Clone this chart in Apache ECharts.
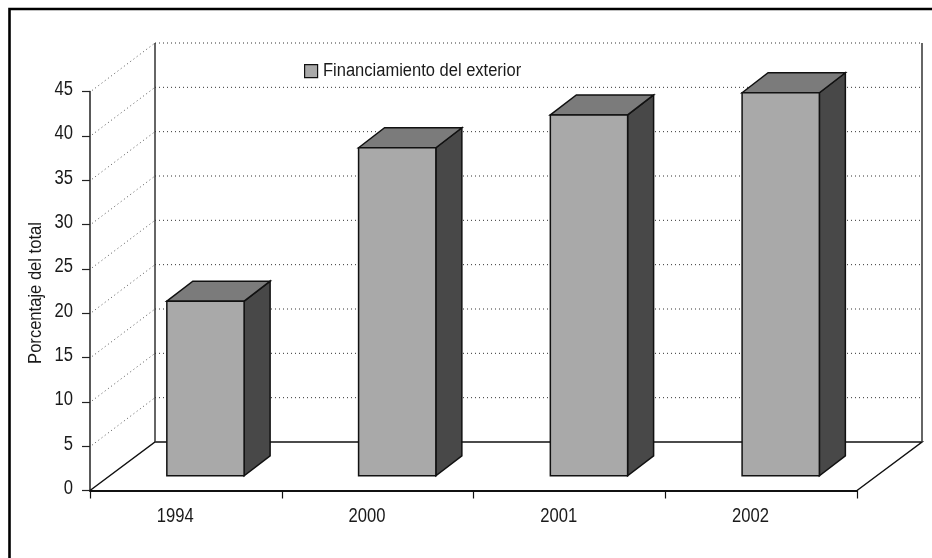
<!DOCTYPE html>
<html><head><meta charset="utf-8">
<style>html,body{margin:0;padding:0;background:#fff}#c{width:932px;height:558px}</style>
<script src="https://cdn.jsdelivr.net/npm/echarts@6/dist/echarts.min.js"></script>
</head><body><div id="c"></div>
<script>
const categories = ['1994','2000','2001','2002'];
const financiamiento = [19.7,37.0,40.7,43.2];
const yTicks = [0,5,10,15,20,25,30,35,40,45];
const seriesName = 'Financiamiento del exterior';
const axisName = 'Porcentaje del total';

const FONT = '"Liberation Sans",sans-serif';
const WALL = {dx:65, dy:-48.5};
const INSET = {dx:19.6, dy:-14.7};
const DEPTH = {dx:26, dy:-20};
const BAR_RATIO = 0.403;
const INK = '#111';
const TEXT = '#1a1a1a';
const NARROW = 0.83;

const chart = echarts.init(document.getElementById('c'), null, {renderer:'canvas'});

function wallItem(params, api){
  const v = api.value(0);
  const cs = params.coordSys;
  const y = api.coord([0, v])[1];
  const x0 = cs.x, x1 = cs.x + cs.width;
  const kids = [];
  if (v === 0){
    const by = y + WALL.dy;
    const bx0 = x0 + WALL.dx, bx1 = x1 + WALL.dx;
    const topY = cs.y + WALL.dy;
    kids.push({type:'polyline', shape:{points:[[x0,y],[bx0,by],[bx1,by],[x1,y]]}, style:{fill:null, stroke:INK, lineWidth:1.5}});
    kids.push({type:'line', shape:{x1:bx0,y1:by,x2:bx0,y2:topY}, style:{stroke:'#333',lineWidth:1.5}});
    kids.push({type:'line', shape:{x1:bx1,y1:by,x2:bx1,y2:topY}, style:{stroke:'#333',lineWidth:1.5}});
  } else {
    kids.push({type:'line', shape:{x1:x0+2,y1:y-1,x2:x0+WALL.dx,y2:y+WALL.dy}, style:{stroke:'#555', lineWidth:1, lineDash:[1,3]}});
    kids.push({type:'line', shape:{x1:x0+WALL.dx,y1:y+WALL.dy,x2:x1+WALL.dx,y2:y+WALL.dy}, style:{stroke:'#333', lineWidth:1, lineDash:[1,3]}});
  }
  return {type:'group', children:kids};
}

function yLabelItem(params, api){
  const v = api.value(0);
  const y = api.coord([0, v])[1];
  return {type:'text', x:params.coordSys.x - 17, y:y - 2, scaleX:NARROW,
    style:{text:String(v), fontFamily:FONT, fontSize:20, fill:TEXT, align:'right', verticalAlign:'middle'}};
}

function xLabelItem(params, api){
  const c = api.value(0);
  const p = api.coord([c, 0]);
  return {type:'text', x:p[0] - 10.7, y:p[1] + 25.5, scaleX:NARROW,
    style:{text:categories[c], fontFamily:FONT, fontSize:20, fill:TEXT, align:'center', verticalAlign:'middle'}};
}

function barItem(params, api){
  const c = api.value(0), v = api.value(1);
  const top = api.coord([c, v]), base = api.coord([c, 0]);
  const w = api.size([1,0])[0] * BAR_RATIO;
  const l = top[0] + INSET.dx - w/2, r = l + w;
  const t = top[1] + INSET.dy, b = base[1] + INSET.dy;
  const ln = {stroke:INK, lineWidth:1.5, lineJoin:'miter'};
  const dx = DEPTH.dx, dy = DEPTH.dy;
  return {type:'group', children:[
    {type:'polygon', shape:{points:[[r,t],[r+dx,t+dy],[r+dx,b+dy],[r,b]]}, style:{fill:'#484848', ...ln}},
    {type:'polygon', shape:{points:[[l,t],[l+dx,t+dy],[r+dx,t+dy],[r,t]]}, style:{fill:'#7b7b7b', ...ln}},
    {type:'rect', shape:{x:l,y:t,width:w,height:b-t}, style:{fill:'#a9a9a9', ...ln}}
  ]};
}

chart.setOption({
  animation:false,
  backgroundColor:'#fff',
  graphic:[
    {type:'rect', silent:true, z:-1, shape:{x:9.5,y:9,width:960,height:600}, style:{fill:null,stroke:'#000',lineWidth:2.6}},
    {type:'text', silent:true, x:36, y:293, rotation:Math.PI/2, scaleX:0.92,
     style:{text:axisName, fontFamily:FONT, fontSize:18, fill:TEXT, align:'center', verticalAlign:'middle'}},
    {type:'text', silent:true, x:323, y:71, scaleX:0.917,
     style:{text:seriesName, fontFamily:FONT, fontSize:18, fill:TEXT, align:'left', verticalAlign:'middle'}}
  ],
  legend:{
    left:299, top:59, selectedMode:false, formatter:function(){return '';},
    itemWidth:13, itemHeight:13, itemGap:0,
    data:[{name:seriesName, icon:'rect', itemStyle:{color:'#a9a9a9', borderColor:INK, borderWidth:1.2}}]
  },
  grid:{left:90, right:75, top:91.5, bottom:67.5, containLabel:false},
  xAxis:{
    type:'category', data:categories, boundaryGap:true,
    axisLine:{lineStyle:{color:INK,width:2}},
    axisTick:{show:true, alignWithLabel:false, length:8, lineStyle:{color:INK,width:1.2}},
    axisLabel:{show:false}
  },
  yAxis:{
    type:'value', min:0, max:45, interval:5,
    splitLine:{show:false},
    axisLine:{show:true, lineStyle:{color:'#222',width:1.5}},
    axisTick:{show:true, length:8, lineStyle:{color:'#222',width:1.2}},
    axisLabel:{show:false}
  },
  series:[
    {type:'custom', name:'wall', silent:true, z:1, renderItem:wallItem, encode:{y:0}, data:yTicks.map(v=>[v]), clip:false},
    {type:'custom', name:'yLabels', silent:true, z:2, renderItem:yLabelItem, encode:{y:0}, data:yTicks.map(v=>[v]), clip:false},
    {type:'custom', name:'xLabels', silent:true, z:2, renderItem:xLabelItem, encode:{x:0}, data:categories.map((c,i)=>[i]), clip:false},
    {type:'custom', name:seriesName, silent:true, z:3, renderItem:barItem, encode:{x:0,y:1},
     itemStyle:{color:'#a9a9a9'}, clip:false,
     data:categories.map((c,i)=>[i,financiamiento[i]])}
  ]
});
</script></body></html>
